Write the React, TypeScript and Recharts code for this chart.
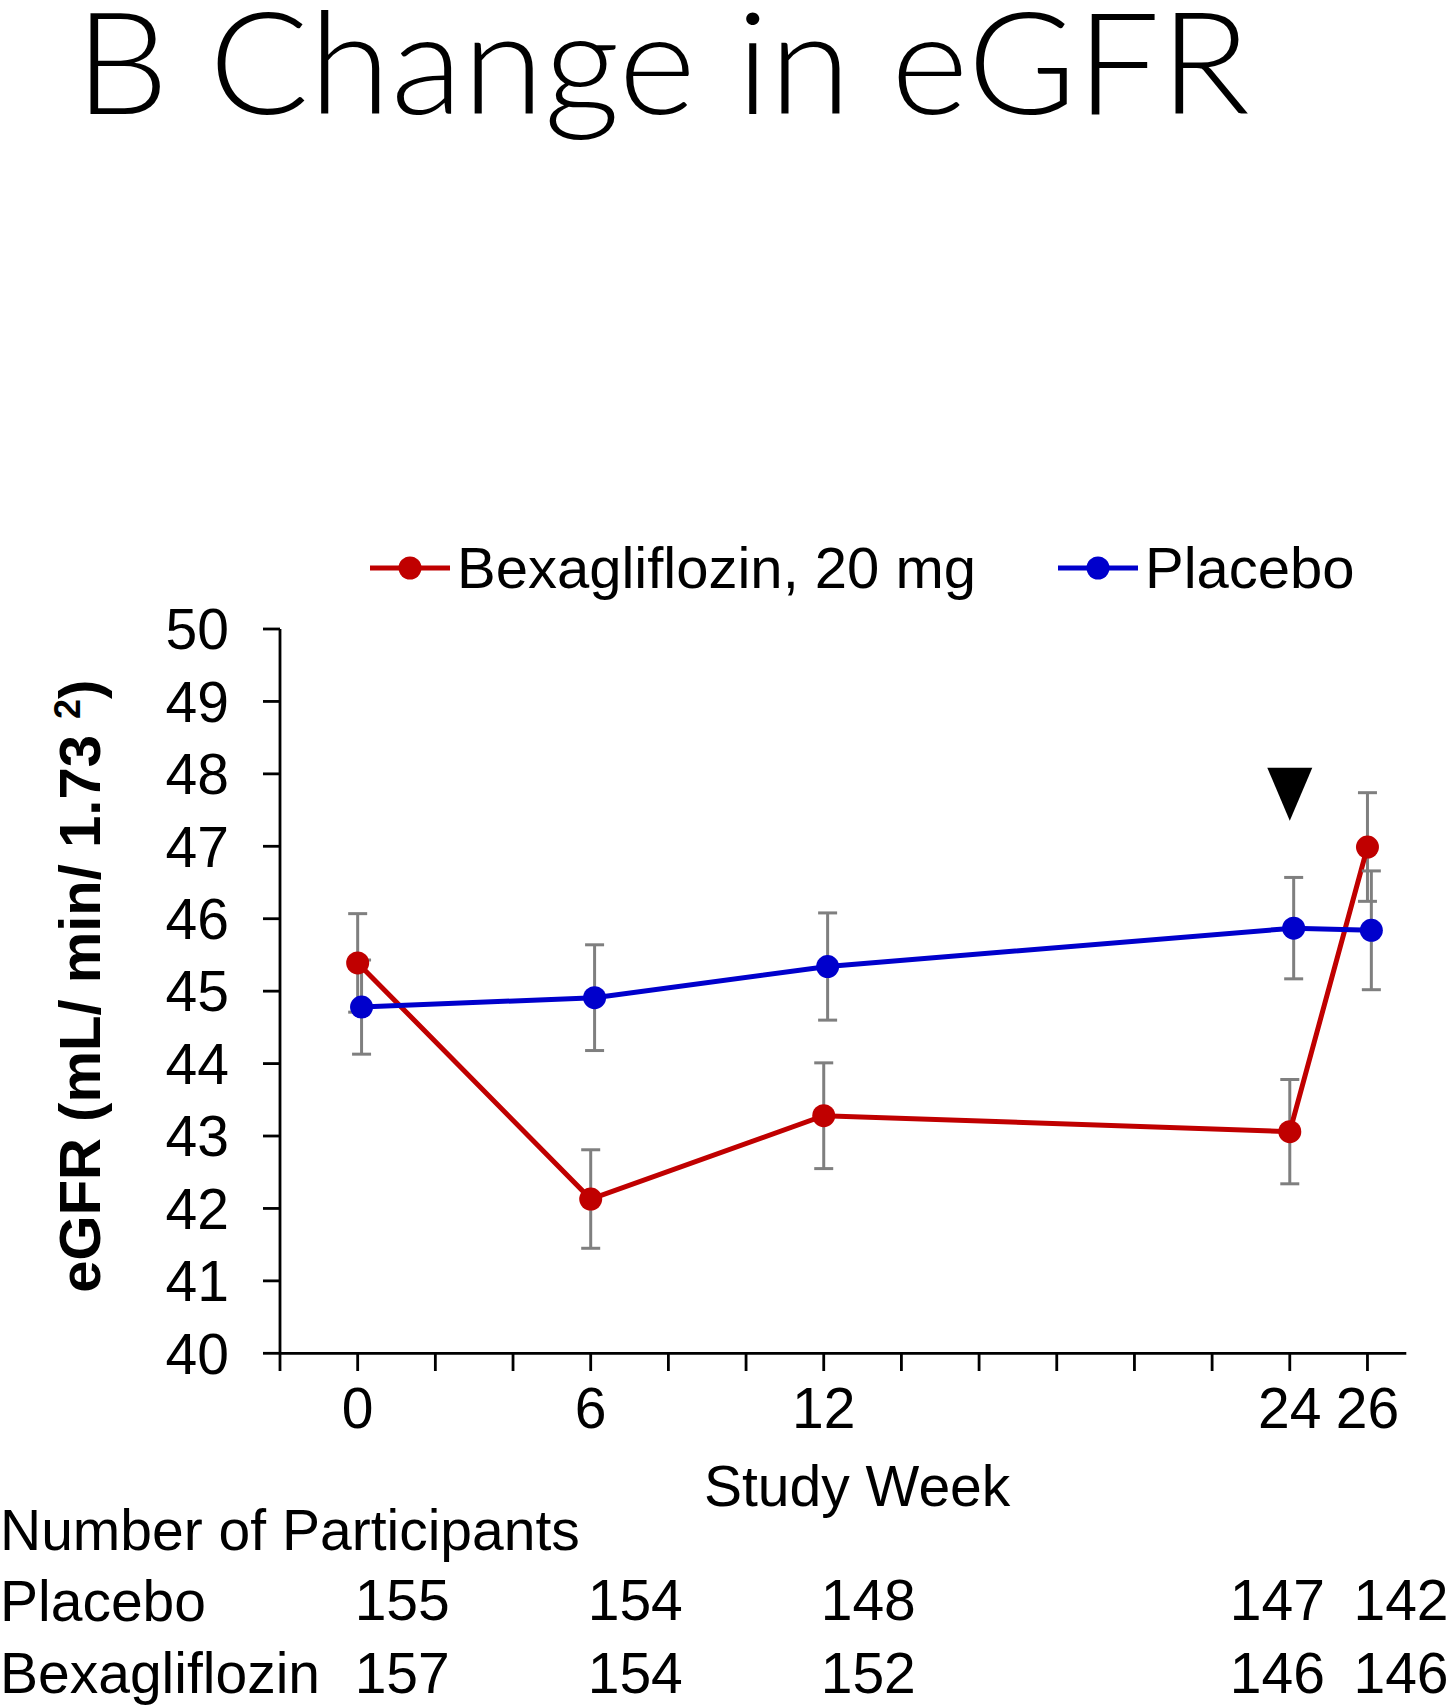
import React from 'react';
import { LineChart, Line, XAxis, YAxis, ErrorBar, Legend, ReferenceDot, Label } from 'recharts';

// study weeks and the values
const weeks = [0, 6, 12, 24, 26];
const placeboWeeks = [0.1, 6.1, 12.1, 24.1, 26.1]; // placebo markers sit a hair to the right
const bexaValues = [45.39, 42.13, 43.28, 43.06, 46.99];
const bexaErrors = [0.68, 0.68, 0.73, 0.72, 0.75];
const placeboValues = [44.78, 44.91, 45.34, 45.87, 45.84];
const placeboErrors = [0.65, 0.73, 0.74, 0.7, 0.82];

const placeboCounts = [155, 154, 148, 147, 142];
const bexaCounts = [157, 154, 152, 146, 146];

const weekTicks = [-2, 0, 2, 4, 6, 8, 10, 12, 14, 16, 18, 20, 22, 24, 26];
const labeledWeeks = [0, 6, 12, 24, 26];
const egfrTicks = [40, 41, 42, 43, 44, 45, 46, 47, 48, 49, 50];

const markerWeek = 24;
const markerValue = 47.72;

const bexaData = weeks.map((w, i) => ({ week: w, value: bexaValues[i], err: bexaErrors[i] }));
const placeboData = placeboWeeks.map((w, i) => ({ week: w, value: placeboValues[i], err: placeboErrors[i] }));

const FONT = "'Liberation Sans', Arial, sans-serif";
const RED = '#C00000';
const BLUE = '#0000CC';
const GREY = '#7F7F7F';
const AXIS = { stroke: '#000', strokeWidth: 2.8 };

// bottom axes are stacked by id order, hence the numeric prefixes
const MAIN_X = 'x1main';
const PL_X = 'x2placebo';
const BX_X = 'x3bexa';

// nudges so the counts line up like the table in the figure
const countShift = [-3, -3, -3, -60, -14];

function CountTick(counts: number[]) {
    return (props: any) => {
        const i = weeks.indexOf(props.payload.value);
        if (i < 0) return null;
        return (
            <text x={props.x + countShift[i]} y={props.y + 73} fontSize={57} fontFamily={FONT} fill="#000" textAnchor="start">
                {counts[i]}
            </text>
        );
    };
}

const legendDotX = [410, 1098];

function renderLegend(props: any) {
    const items = props.payload || [];
    return (
        <svg width={1453} height={100} style={{ display: 'block' }}>
            {items.map((entry: any, i: number) => {
                const cx = legendDotX[i];
                return (
                    <g key={entry.value}>
                        <line x1={cx - 40} x2={cx + 40} y1={48} y2={48} stroke={entry.color} strokeWidth={5} />
                        <circle cx={cx} cy={48} r={11.5} fill={entry.color} />
                        <text x={cx + 47} y={68} fontSize={58} fontFamily={FONT} fill="#000">
                            {entry.value}
                        </text>
                    </g>
                );
            })}
        </svg>
    );
}

const Triangle = (props: any) => {
    const { cx, cy } = props;
    if (cx == null || cy == null) return null;
    return <polygon points={`${cx - 22.5},${cy - 26.5} ${cx + 22.5},${cy - 26.5} ${cx},${cy + 26.5}`} fill="#000" />;
};

export default function App() {
    return (
        <div style={{ position: 'relative', width: 1453, height: 1705, background: '#fff', overflow: 'hidden' }}>
            <style>{'body{margin:0}'}</style>
            <LineChart width={1453} height={1705} margin={{ top: 629, right: 46.7, bottom: 12, left: 0 }}>
                <XAxis
                    xAxisId="top"
                    orientation="top"
                    type="number"
                    dataKey="week"
                    domain={[-2, 27]}
                    allowDataOverflow
                    height={0}
                    tick={false}
                    tickLine={false}
                    axisLine={AXIS}
                />
                <XAxis
                    xAxisId={MAIN_X}
                    type="number"
                    dataKey="week"
                    domain={[-2, 27]}
                    allowDataOverflow
                    ticks={weekTicks}
                    interval={0}
                    height={193.7}
                    tickSize={17.7}
                    tickMargin={17}
                    tickFormatter={(v: number) => (labeledWeeks.includes(v) ? String(v) : '')}
                    tick={{ fontSize: 57, fill: '#000', fontFamily: FONT }}
                    tickLine={AXIS}
                    axisLine={AXIS}
                >
                    <Label
                        content={(p: any) => {
                            const vb = p.viewBox;
                            return (
                                <text x={vb.x + vb.width / 2 + 14} y={vb.y + 152.7} textAnchor="middle" fontSize={57} fontFamily={FONT} fill="#000">
                                    Study Week
                                </text>
                            );
                        }}
                    />
                </XAxis>
                <XAxis
                    xAxisId={PL_X}
                    type="number"
                    dataKey="week"
                    domain={[-2, 27]}
                    allowDataOverflow
                    ticks={weeks}
                    interval={0}
                    height={73}
                    tickSize={0}
                    tickMargin={0}
                    tickLine={false}
                    axisLine={false}
                    tick={CountTick(placeboCounts)}
                >
                    <Label
                        content={(p: any) => {
                            const vb = p.viewBox;
                            return (
                                <g fontSize={57} fontFamily={FONT} fill="#000">
                                    <text x={0} y={vb.y + 3}>Number of Participants</text>
                                    <text x={0} y={vb.y + 73.6}>Placebo</text>
                                </g>
                            );
                        }}
                    />
                </XAxis>
                <XAxis
                    xAxisId={BX_X}
                    type="number"
                    dataKey="week"
                    domain={[-2, 27]}
                    allowDataOverflow
                    ticks={weeks}
                    interval={0}
                    height={73}
                    tickSize={0}
                    tickMargin={0}
                    tickLine={false}
                    axisLine={false}
                    tick={CountTick(bexaCounts)}
                >
                    <Label
                        content={(p: any) => {
                            const vb = p.viewBox;
                            return (
                                <text x={0} y={vb.y + 73} fontSize={57} fontFamily={FONT} fill="#000">
                                    Bexagliflozin
                                </text>
                            );
                        }}
                    />
                </XAxis>
                <YAxis
                    yAxisId="left"
                    type="number"
                    domain={[40, 50]}
                    allowDataOverflow
                    ticks={egfrTicks}
                    interval={0}
                    width={280}
                    tickSize={17}
                    tickMargin={34}
                    tick={{ fontSize: 57, fill: '#000', fontFamily: FONT }}
                    tickLine={AXIS}
                    axisLine={AXIS}
                >
                    <Label
                        content={(p: any) => {
                            const vb = p.viewBox;
                            const cx = vb.x + 100;
                            const cy = vb.y + vb.height / 2 - 5;
                            return (
                                <text
                                    x={cx}
                                    y={cy}
                                    transform={`rotate(-90 ${cx} ${cy})`}
                                    textAnchor="middle"
                                    fontSize={58}
                                    fontWeight="bold"
                                    fontFamily={FONT}
                                    fill="#000"
                                >
                                    eGFR (mL/ min/ 1.73{' '}
                                    <tspan fontSize={36} dy={-20}>2</tspan>
                                    <tspan dy={20}>)</tspan>
                                </text>
                            );
                        }}
                    />
                </YAxis>
                <YAxis
                    yAxisId="right"
                    orientation="right"
                    type="number"
                    domain={[40, 50]}
                    allowDataOverflow
                    width={0}
                    tick={false}
                    tickLine={false}
                    axisLine={AXIS}
                />
                <Legend
                    layout="vertical"
                    align="center"
                    verticalAlign="middle"
                    content={renderLegend}
                    wrapperStyle={{ top: 520, left: 0, width: 1453, height: 100 }}
                />
                <Line
                    xAxisId={MAIN_X}
                    yAxisId="left"
                    data={bexaData}
                    dataKey="value"
                    name="Bexagliflozin, 20 mg"
                    type="linear"
                    stroke={RED}
                    strokeWidth={5}
                    dot={{ r: 11.5, fill: RED, stroke: RED, strokeWidth: 0 }}
                    activeDot={false}
                    isAnimationActive={false}
                >
                    <ErrorBar dataKey="err" direction="y" width={9.5} strokeWidth={3} stroke={GREY} />
                </Line>
                <Line
                    xAxisId={MAIN_X}
                    yAxisId="left"
                    data={placeboData}
                    dataKey="value"
                    name="Placebo"
                    type="linear"
                    stroke={BLUE}
                    strokeWidth={5}
                    dot={{ r: 11.5, fill: BLUE, stroke: BLUE, strokeWidth: 0 }}
                    activeDot={false}
                    isAnimationActive={false}
                >
                    <ErrorBar dataKey="err" direction="y" width={9.5} strokeWidth={3} stroke={GREY} />
                </Line>
                <ReferenceDot xAxisId={MAIN_X} yAxisId="left" x={markerWeek} y={markerValue} shape={Triangle} />
            </LineChart>
            <svg width={1453} height={160} style={{ position: 'absolute', left: 0, top: 0 }}>
                <text
                    x={75}
                    y={114}
                    fontSize={142}
                    fontWeight={300}
                    fontFamily="Lato, 'Open Sans', sans-serif"
                    fill="#000"
                    textLength={1175}
                    lengthAdjust="spacingAndGlyphs"
                >
                    B Change in eGFR
                </text>
            </svg>
        </div>
    );
}
